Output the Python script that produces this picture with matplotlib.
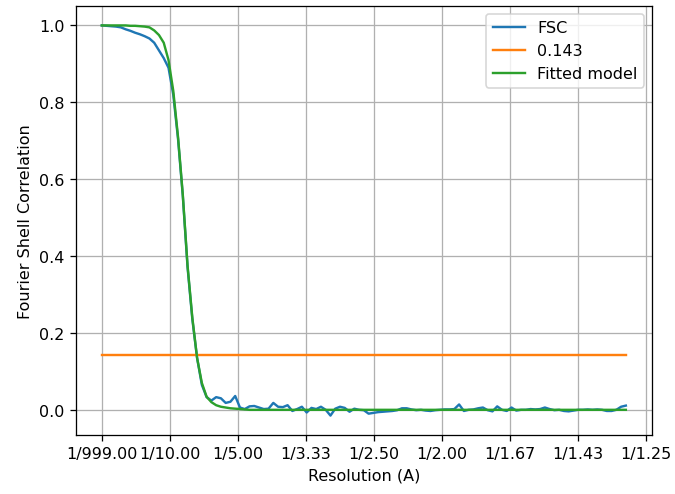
import numpy as np
import matplotlib
matplotlib.use("Agg")
from matplotlib import pyplot as plt

fsc = [1.0, 0.999, 0.998, 0.997, 0.995, 0.99, 0.986, 0.981, 0.977, 0.972,
       0.966, 0.955, 0.935, 0.915, 0.89, 0.82, 0.705, 0.557, 0.371, 0.236,
       0.135, 0.065, 0.033, 0.024, 0.033, 0.03, 0.018, 0.021, 0.036, 0.006,
       0.002, 0.009, 0.01, 0.006, 0.002, 0.003, 0.018, 0.008, 0.007, 0.012,
       -0.003, 0.002, 0.008, -0.007, 0.005, 0.002, 0.008, 0.0, -0.015, 0.003,
       0.008, 0.005, -0.005, 0.003, 0.0, -0.001, -0.01, -0.008, -0.006, -0.005,
       -0.004, -0.003, -0.001, 0.004, 0.004, 0.001, -0.001, 0.0, -0.002, -0.003,
       -0.001, 0.0, 0.001, 0.001, 0.002, 0.014, -0.003, 0.0, 0.001, 0.004,
       0.006, -0.001, -0.004, 0.009, 0.0, -0.003, 0.006, -0.002, 0.0, 0.0,
       0.002, 0.001, 0.002, 0.006, 0.002, -0.001, 0.0, -0.003, -0.004, -0.002,
       0.0, 0.0, 0.001, 0.0, 0.001, 0.0, -0.003, -0.003, 0.0, 0.008, 0.011]

# fitted model at the same frequencies
fitted = [1.0, 1.0, 1.0, 1.0, 1.0, 1.0, 0.999, 0.999, 0.998, 0.997,
          0.995, 0.987, 0.975, 0.955, 0.91, 0.83, 0.71, 0.56, 0.375, 0.24,
          0.135, 0.07, 0.034, 0.02, 0.012, 0.008, 0.006, 0.004, 0.003, 0.002,
          0.001] + [0.0] * 80

threshold = 0.143
max_freq = 0.771

tick_pos = [0.0, 0.1, 0.2, 0.3, 0.4, 0.5, 0.6, 0.7, 0.8]
tick_labels = ['1/999.00', '1/10.00', '1/5.00', '1/3.33', '1/2.50',
               '1/2.00', '1/1.67', '1/1.43', '1/1.25']

freq = np.linspace(0, max_freq, len(fsc))

dpi = 115
fig = plt.figure(figsize=(675 / dpi, 495 / dpi), dpi=dpi)
ax = fig.add_axes([0.112, 0.119, 0.854, 0.867])

ax.plot(freq, fsc, label='FSC')
ax.plot(freq, [threshold] * len(freq), label='0.143')
ax.plot(freq, fitted, label='Fitted model')

ax.set_xticks(tick_pos)
ax.set_xticklabels(tick_labels)
ax.set_xlabel('Resolution (A)')
ax.set_ylabel('Fourier Shell Correlation')
ax.grid(True)
ax.legend(loc='upper right')

fig.savefig('out.png', dpi=dpi)
